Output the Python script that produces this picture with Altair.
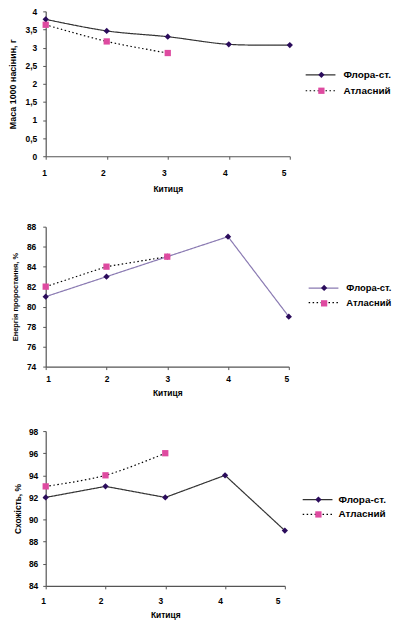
import altair as alt
import pandas as pd

# ---- data ----
kytytsia = [1, 2, 3, 4, 5]
series_names = ["Флора-ст.", "Атласний"]

mass_flora = [3.78, 3.46, 3.30, 3.09, 3.07]
mass_atlas = [3.63, 3.17, 2.85]

energy_flora = [81, 83, 85, 87, 79]
energy_atlas = [82, 84, 85]

germ_flora = [92, 93, 92, 94, 89]
germ_atlas = [93, 94, 96]

mass_ticks = [0, 0.5, 1, 1.5, 2, 2.5, 3, 3.5, 4]
energy_ticks = [74, 76, 78, 80, 82, 84, 86, 88]
germ_ticks = [84, 86, 88, 90, 92, 94, 96, 98]

FONT = "Liberation Sans"
MARKER_FLORA = "#2b0c5c"
MARKER_ATLAS = "#de4aa0"


def make_df(flora, atlas):
    rows = []
    for k, v in zip(kytytsia, flora):
        rows.append({"k": k, "v": v, "series": series_names[0]})
    for k, v in zip(kytytsia, atlas):
        rows.append({"k": k, "v": v, "series": series_names[1]})
    df = pd.DataFrame(rows)
    df["series2"] = df["series"]
    return df


def panel(df, ydomain, yvalues, ytitle, ytitle_size, ytitle_pad, flora_color,
          interp, w, h, xlabpad, xtitlepad, xlabdx, ylabpad,
          leg_cx, leg_y, leg_font, leg_rowpad, leg_laboff):
    x = alt.X("k:Q", scale=alt.Scale(domain=[1, 5], nice=False, zero=False),
              axis=alt.Axis(values=kytytsia, format="d", title="Китиця",
                            labelPadding=xlabpad, titlePadding=xtitlepad,
                            labelOffset=xlabdx, titleFontSize=8.5))
    y = alt.Y("v:Q", scale=alt.Scale(domain=ydomain, nice=False, zero=False),
              axis=alt.Axis(values=yvalues, format=".1~f",
                            labelExpr="replace(datum.label, '.', ',')",
                            title=ytitle, titleFontSize=ytitle_size,
                            titlePadding=ytitle_pad, labelPadding=ylabpad))
    line_legend = alt.Legend(orient="none", legendX=leg_cx - 4, legendY=leg_y,
                             title=None, symbolType="M-3.75,0H3.75",
                             symbolSize=64, symbolStrokeWidth=1.2,
                             labelOffset=leg_laboff, labelFontSize=leg_font,
                             labelFontWeight="bold", labelFont=FONT,
                             labelColor="#000000",
                             rowPadding=leg_rowpad, padding=0)
    point_legend = alt.Legend(orient="none", legendX=leg_cx - 3.16, legendY=leg_y,
                              title=None, symbolSize=40, symbolStrokeWidth=0,
                              symbolOpacity=1, labelExpr="''",
                              labelFontSize=leg_font, labelFont=FONT,
                              labelFontWeight="bold",
                              rowPadding=leg_rowpad, padding=0)
    stroke_scale = alt.Scale(range=[flora_color, "#000000"])
    dash_scale = alt.Scale(range=[[1, 0], [1.5, 2.5]])
    layers = []
    for name in series_names:
        layers.append(
            alt.Chart().transform_filter(alt.datum.series == name)
            .mark_line(interpolate=interp[name], strokeWidth=1.2)
            .encode(x=x, y=y,
                    stroke=alt.Stroke("series:N", sort="descending",
                                      scale=stroke_scale, legend=line_legend),
                    strokeDash=alt.StrokeDash("series:N", sort="descending",
                                              scale=dash_scale, legend=line_legend))
        )
    points = alt.Chart().mark_point(filled=True, size=40, opacity=1).encode(
        x=x, y=y,
        fill=alt.Fill("series2:N", sort="descending",
                      scale=alt.Scale(range=[MARKER_FLORA, MARKER_ATLAS]),
                      legend=point_legend),
        shape=alt.Shape("series2:N", sort="descending",
                        scale=alt.Scale(range=["diamond", "square"]),
                        legend=point_legend),
    )
    return alt.layer(*layers, points, data=df).properties(width=w, height=h)


p1 = panel(make_df(mass_flora, mass_atlas), [0, 4], mass_ticks,
           "Маса 1000 насінин, г", 9, 8, "#333333",
           {"Флора-ст.": "catmull-rom", "Атласний": "catmull-rom"},
           246, 146, 9, 8, -4, 6, 276, 59, 10, 6, 18)
p2 = panel(make_df(energy_flora, energy_atlas), [74, 88], energy_ticks,
           "Енергія проростання, %", 7.5, 7, "#8a7ab2",
           {"Флора-ст.": "linear", "Атласний": "linear"},
           245, 141, 5, 6, 0, 7, 279, 57, 9.5, 4.5, 18)
p3 = panel(make_df(germ_flora, germ_atlas), [84, 98], germ_ticks,
           "Схожість, %", 8.5, 6, "#333333",
           {"Флора-ст.": "linear", "Атласний": "catmull-rom"},
           241, 156, 8, 5, -5, 5, 273, 64, 10, 5, 16)

chart = alt.vconcat(p1, p2, p3, spacing=30).resolve_scale(
    x="independent", y="independent", stroke="independent",
    strokeDash="independent", fill="independent", shape="independent",
).resolve_legend(
    stroke="independent", strokeDash="independent",
    fill="independent", shape="independent",
).properties(
    padding={"left": 0, "top": -3, "right": 0, "bottom": 0},
).configure_view(stroke=None).configure_axis(
    grid=False, labelFont=FONT, labelFontWeight="bold", labelFontSize=8.5,
    labelColor="#000000", titleFont=FONT, titleFontWeight="bold",
    titleColor="#000000", domainColor="#555555", tickColor="#555555",
    tickSize=3, domainWidth=1.2,
)

chart.save("out.html", embed_options={"renderer": "svg", "actions": False})
